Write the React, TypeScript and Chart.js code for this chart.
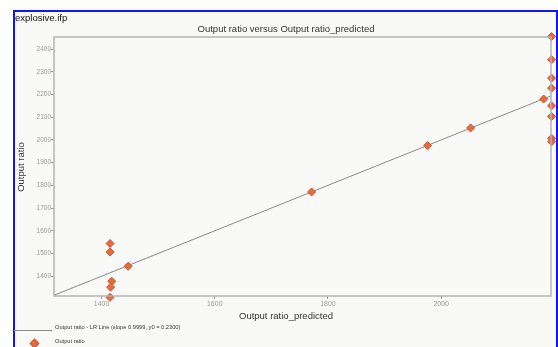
import React, { useEffect, useRef } from "react";
import { Chart, registerables } from "chart.js";

Chart.register(...registerables);

// Data
const predicted = [1415, 1415, 1447, 1418, 1416, 1415, 1771, 1976, 2052, 2181, 2195, 2195, 2195, 2195, 2195, 2195, 2195, 2195];
const actual = [1544, 1507, 1444, 1378, 1352, 1307, 1771, 1975, 2053, 2180, 2455, 2353, 2272, 2228, 2150, 2103, 2007, 1992];
const xTicks = [1400, 1600, 1800, 2000];
const yTicks = [1400, 1500, 1600, 1700, 1800, 1900, 2000, 2100, 2200, 2300, 2400];
const xRange = [1316, 2194];
const yRange = [1313, 2453];
const lrSlope = 0.9999;
const lrIntercept = 0.23;

const titleText = "Output ratio versus Output ratio_predicted";
const fileName = "explosive.ifp";
const xTitle = "Output ratio_predicted";
const yTitle = "Output ratio";
const legendLine = "Output ratio - LR Line (slope 0.9999, y0 = 0.2300)";
const legendPoints = "Output ratio";

const FONT = "'Liberation Sans', Arial, sans-serif";
const MARK_FILL = "#ea6a3d";
const MARK_EDGE = "#c4542d";

const frame = {
  id: "frame",
  afterDatasetsDraw(chart: any) {
    const a = chart.chartArea;
    const ctx = chart.ctx;
    ctx.save();
    ctx.strokeStyle = "#b4b4b4";
    ctx.lineWidth = 1.5;
    ctx.strokeRect(a.left, a.top, a.right - a.left, a.bottom - a.top);
    ctx.restore();
  },
};

export default function App() {
  const ref = useRef<HTMLCanvasElement>(null);
  useEffect(() => {
    if (!ref.current) return;
    const pts = predicted.map((x, i) => ({ x, y: actual[i] }));
    const lr = xRange.map((x) => ({ x, y: lrSlope * x + lrIntercept }));
    const chart = new Chart(ref.current, {
      type: "scatter",
      data: {
        datasets: [
          {
            type: "line",
            data: lr,
            borderColor: "#8a8a8a",
            borderWidth: 1,
            pointRadius: 0,
            showLine: true,
            order: 2,
          } as any,
          {
            data: pts,
            pointStyle: "rectRot",
            pointRadius: 4,
            backgroundColor: MARK_FILL,
            borderColor: MARK_EDGE,
            borderWidth: 1,
            clip: false,
            order: 1,
          } as any,
        ],
      },
      options: {
        animation: false,
        responsive: false,
        maintainAspectRatio: false,
        layout: { padding: { top: 25, right: 2, left: 0, bottom: 0 } },
        plugins: { legend: { display: false }, tooltip: { enabled: false }, title: { display: false } },
        scales: {
          x: {
            type: "linear",
            min: xRange[0],
            max: xRange[1],
            afterBuildTicks: (s: any) => { s.ticks = xTicks.map((v) => ({ value: v })); },
            afterFit: (s: any) => { s.height = 16; },
            grid: { display: true, drawOnChartArea: false, drawTicks: true, tickLength: 3, color: "#999" },
            border: { display: false },
            ticks: { color: "#999", font: { family: FONT, size: 7 }, padding: 1, maxRotation: 0, callback: (v: any) => String(v) },
          },
          y: {
            type: "linear",
            min: yRange[0],
            max: yRange[1],
            afterBuildTicks: (s: any) => { s.ticks = yTicks.map((v) => ({ value: v })); },
            afterFit: (s: any) => { s.width = 38; },
            grid: { display: true, drawOnChartArea: false, drawTicks: true, tickLength: 3, color: "#999" },
            border: { display: false },
            ticks: { color: "#999", font: { family: FONT, size: 6.5 }, padding: 0, callback: (v: any) => String(v) },
          },
        },
      },
      plugins: [frame],
    } as any);
    return () => chart.destroy();
  }, []);

  const text = (s: string, left: number, cy: number, size: number, extra: any = {}) => (
    <div
      style={{
        position: "absolute",
        left,
        top: cy,
        transform: "translateY(-50%)",
        fontFamily: FONT,
        fontSize: size,
        lineHeight: 1.15,
        whiteSpace: "nowrap",
        color: "#222",
        ...extra,
      }}
    >
      {s}
    </div>
  );

  return (
    <div style={{ position: "fixed", left: 0, top: 0, width: 558, height: 347, background: "#fff", overflow: "hidden" }}>
      <div
        style={{
          position: "absolute",
          left: 13,
          top: 10,
          width: 541,
          height: 400,
          border: "2px solid #1414f5",
          background: "#f9f9f7",
        }}
      />
      <canvas ref={ref} width={540} height={300} style={{ position: "absolute", left: 16, top: 12, width: 540, height: 300 }} />
      {text(fileName, 15, 17.7, 9.5, { color: "#111" })}
      {text(titleText, 286, 29, 9.5, { transform: "translate(-50%,-50%)", color: "#333" })}
      {text(xTitle, 286, 315.5, 9.5, { transform: "translate(-50%,-50%)", color: "#333" })}
      <div
        style={{
          position: "absolute",
          left: 20.7,
          top: 167,
          transform: "translate(-50%,-50%) rotate(-90deg)",
          fontFamily: FONT,
          fontSize: 9.5,
          lineHeight: 1.15,
          whiteSpace: "nowrap",
          color: "#333",
        }}
      >
        {yTitle}
      </div>
      <div style={{ position: "absolute", left: 14, top: 329.5, width: 38, height: 1, background: "#8a8a8a" }} />
      {text(legendLine, 55, 327, 5.7, { color: "#333" })}
      <div
        style={{
          position: "absolute",
          left: 33.8 - 3,
          top: 342.5 - 3,
          width: 5,
          height: 5,
          background: MARK_FILL,
          border: `0.5px solid ${MARK_EDGE}`,
          transform: "rotate(45deg)",
        }}
      />
      {text(legendPoints, 55, 340.5, 5.7, { color: "#333" })}
    </div>
  );
}
